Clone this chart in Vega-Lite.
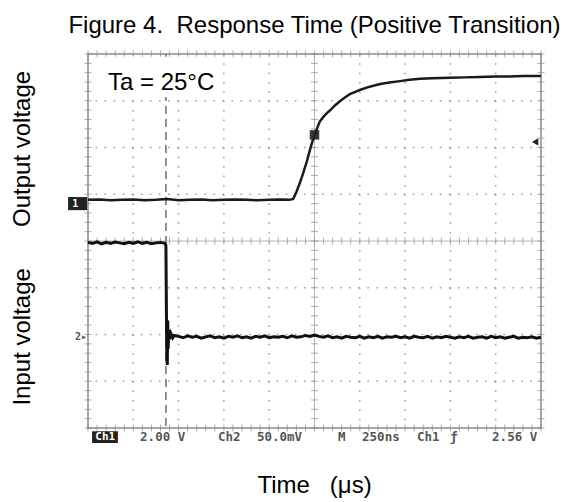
{
  "$schema": "https://vega.github.io/schema/vega-lite/v6.json",
  "width": 453,
  "height": 374,
  "autosize": {"type": "none"},
  "padding": {"left": 88, "top": 54, "right": 30, "bottom": 74},
  "background": "white",
  "config": {
    "view": {"stroke": "#8a8a8a", "strokeWidth": 1.5},
    "font": "Liberation Sans"
  },
  "title": {
    "text": "Figure 4.\u00a0 Response Time (Positive Transition)",
    "fontSize": 24,
    "fontWeight": "normal",
    "font": "Liberation Sans",
    "color": "black",
    "anchor": "middle",
    "dx": 0,
    "offset": 13
  },
  "datasets": {
    "one": [{}],
    "gx": [{"v": 1}, {"v": 2}, {"v": 3}, {"v": 4}, {"v": 6}, {"v": 7}, {"v": 8}, {"v": 9}],
    "gy": [{"v": 1}, {"v": 2}, {"v": 3}, {"v": 5}, {"v": 6}, {"v": 7}],
    "mx": [{"v":0},{"v":0.2},{"v":0.4},{"v":0.6},{"v":0.8},{"v":1},{"v":1.2},{"v":1.4},{"v":1.6},{"v":1.8},{"v":2},{"v":2.2},{"v":2.4},{"v":2.6},{"v":2.8},{"v":3},{"v":3.2},{"v":3.4},{"v":3.6},{"v":3.8},{"v":4},{"v":4.2},{"v":4.4},{"v":4.6},{"v":4.8},{"v":5},{"v":5.2},{"v":5.4},{"v":5.6},{"v":5.8},{"v":6},{"v":6.2},{"v":6.4},{"v":6.6},{"v":6.8},{"v":7},{"v":7.2},{"v":7.4},{"v":7.6},{"v":7.8},{"v":8},{"v":8.2},{"v":8.4},{"v":8.6},{"v":8.8},{"v":9},{"v":9.2},{"v":9.4},{"v":9.6},{"v":9.8},{"v":10}],
    "my": [{"v":0},{"v":0.2},{"v":0.4},{"v":0.6},{"v":0.8},{"v":1},{"v":1.2},{"v":1.4},{"v":1.6},{"v":1.8},{"v":2},{"v":2.2},{"v":2.4},{"v":2.6},{"v":2.8},{"v":3},{"v":3.2},{"v":3.4},{"v":3.6},{"v":3.8},{"v":4},{"v":4.2},{"v":4.4},{"v":4.6},{"v":4.8},{"v":5},{"v":5.2},{"v":5.4},{"v":5.6},{"v":5.8},{"v":6},{"v":6.2},{"v":6.4},{"v":6.6},{"v":6.8},{"v":7},{"v":7.2},{"v":7.4},{"v":7.6},{"v":7.8},{"v":8}],
    "out": [
      {"t":0,"v":4.88},{"t":0.25,"v":4.89},{"t":0.5,"v":4.87},{"t":0.75,"v":4.88},{"t":1,"v":4.89},{"t":1.25,"v":4.87},{"t":1.5,"v":4.88},{"t":1.75,"v":4.9},{"t":2,"v":4.87},{"t":2.25,"v":4.88},{"t":2.5,"v":4.89},{"t":2.75,"v":4.87},{"t":3,"v":4.88},{"t":3.25,"v":4.89},{"t":3.5,"v":4.88},{"t":3.75,"v":4.87},{"t":4,"v":4.88},{"t":4.25,"v":4.89},{"t":4.45,"v":4.88},{"t":4.53,"v":4.9},
      {"t":4.6,"v":5.05},{"t":4.68,"v":5.25},{"t":4.75,"v":5.45},{"t":4.83,"v":5.7},{"t":4.9,"v":5.95},{"t":4.96,"v":6.15},{"t":5.01,"v":6.27},{"t":5.06,"v":6.42},{"t":5.12,"v":6.56},{"t":5.2,"v":6.66},{"t":5.28,"v":6.74},{"t":5.34,"v":6.79},{"t":5.45,"v":6.9},{"t":5.56,"v":6.99},{"t":5.67,"v":7.07},{"t":5.78,"v":7.14},{"t":5.9,"v":7.19},{"t":6,"v":7.23},{"t":6.15,"v":7.28},{"t":6.3,"v":7.32},{"t":6.45,"v":7.36},{"t":6.65,"v":7.39},{"t":6.89,"v":7.42},{"t":7.1,"v":7.45},{"t":7.33,"v":7.47},{"t":7.6,"v":7.48},{"t":7.99,"v":7.49},{"t":8.3,"v":7.5},{"t":8.65,"v":7.51},{"t":9,"v":7.52},{"t":9.3,"v":7.52},{"t":9.6,"v":7.53},{"t":10,"v":7.53}
    ],
    "inp": [
      {"t":0,"v":3.97},{"t":0.1,"v":3.95},{"t":0.2,"v":3.98},{"t":0.3,"v":3.94},{"t":0.4,"v":3.97},{"t":0.5,"v":3.95},{"t":0.6,"v":3.98},{"t":0.7,"v":3.96},{"t":0.8,"v":3.94},{"t":0.9,"v":3.97},{"t":1,"v":3.95},{"t":1.1,"v":3.98},{"t":1.2,"v":3.95},{"t":1.3,"v":3.97},{"t":1.4,"v":3.94},{"t":1.5,"v":3.96},{"t":1.6,"v":3.97},{"t":1.7,"v":3.95},
      {"t":1.72,"v":3.9},{"t":1.73,"v":2.6},{"t":1.74,"v":1.5},{"t":1.75,"v":1.35},{"t":1.76,"v":2.3},{"t":1.77,"v":1.7},{"t":1.78,"v":2.1},{"t":1.8,"v":1.9},{"t":1.83,"v":2.02},{"t":1.87,"v":1.93},{"t":1.9,"v":1.98},
      {"t":2,"v":1.96},{"t":2.1,"v":1.93},{"t":2.2,"v":1.97},{"t":2.3,"v":1.94},{"t":2.4,"v":1.96},{"t":2.5,"v":1.92},{"t":2.6,"v":1.95},{"t":2.7,"v":1.97},{"t":2.8,"v":1.93},{"t":2.9,"v":1.95},{"t":3,"v":1.92},{"t":3.1,"v":1.96},{"t":3.2,"v":1.94},{"t":3.3,"v":1.97},{"t":3.4,"v":1.93},{"t":3.5,"v":1.95},{"t":3.6,"v":1.92},{"t":3.7,"v":1.96},{"t":3.8,"v":1.94},{"t":3.9,"v":1.97},{"t":4,"v":1.93},{"t":4.1,"v":1.95},{"t":4.2,"v":1.94},{"t":4.3,"v":1.96},{"t":4.4,"v":1.93},{"t":4.5,"v":1.97},{"t":4.6,"v":1.94},{"t":4.7,"v":1.95},{"t":4.8,"v":1.98},{"t":4.9,"v":1.96},{"t":5,"v":1.99},{"t":5.1,"v":1.96},{"t":5.2,"v":1.94},{"t":5.3,"v":1.97},{"t":5.4,"v":1.93},{"t":5.5,"v":1.95},{"t":5.6,"v":1.92},{"t":5.7,"v":1.96},{"t":5.8,"v":1.94},{"t":5.9,"v":1.93},{"t":6,"v":1.96},{"t":6.1,"v":1.92},{"t":6.2,"v":1.95},{"t":6.3,"v":1.93},{"t":6.4,"v":1.96},{"t":6.5,"v":1.92},{"t":6.6,"v":1.95},{"t":6.7,"v":1.94},{"t":6.8,"v":1.96},{"t":6.9,"v":1.93},{"t":7,"v":1.95},{"t":7.1,"v":1.92},{"t":7.2,"v":1.96},{"t":7.3,"v":1.94},{"t":7.4,"v":1.93},{"t":7.5,"v":1.96},{"t":7.6,"v":1.92},{"t":7.7,"v":1.95},{"t":7.8,"v":1.93},{"t":7.9,"v":1.96},{"t":8,"v":1.94},{"t":8.1,"v":1.92},{"t":8.2,"v":1.95},{"t":8.3,"v":1.93},{"t":8.4,"v":1.96},{"t":8.5,"v":1.92},{"t":8.6,"v":1.94},{"t":8.7,"v":1.95},{"t":8.8,"v":1.92},{"t":8.9,"v":1.96},{"t":9,"v":1.93},{"t":9.1,"v":1.95},{"t":9.2,"v":1.92},{"t":9.3,"v":1.94},{"t":9.4,"v":1.96},{"t":9.5,"v":1.92},{"t":9.6,"v":1.94},{"t":9.7,"v":1.93},{"t":9.8,"v":1.95},{"t":9.9,"v":1.92},{"t":10,"v":1.94}
    ],
    "strip": [
      {"t": 1.15, "s": "2.00 V"},
      {"t": 2.87, "s": "Ch2"},
      {"t": 3.73, "s": "50.0mV"},
      {"t": 5.52, "s": "M"},
      {"t": 6.05, "s": "250ns"},
      {"t": 7.26, "s": "Ch1"},
      {"t": 7.99, "s": "ƒ"},
      {"t": 8.92, "s": "2.56 V"}
    ]
  },
  "layer": [
    {
      "data": {"name": "gx"},
      "mark": {"type": "rule", "color": "#9a9a9a", "strokeWidth": 1.5, "strokeDash": [1.5, 7.85]},
      "encoding": {
        "x": {"field": "v", "type": "quantitative", "scale": {"domain": [0, 10], "nice": false, "zero": false}, "axis": null}
      }
    },
    {
      "data": {"name": "gy"},
      "mark": {"type": "rule", "color": "#9a9a9a", "strokeWidth": 1.5, "strokeDash": [1.5, 7.56]},
      "encoding": {
        "y": {"field": "v", "type": "quantitative", "scale": {"domain": [0, 8], "nice": false, "zero": false}, "axis": null}
      }
    },
    {
      "data": {"name": "one"},
      "mark": {"type": "rule", "color": "#b5b5b5", "strokeWidth": 1},
      "encoding": {"x": {"datum": 5, "axis": null}}
    },
    {
      "data": {"name": "one"},
      "mark": {"type": "rule", "color": "#b5b5b5", "strokeWidth": 1},
      "encoding": {"y": {"datum": 4, "axis": null}}
    },
    {
      "data": {"name": "mx"},
      "mark": {"type": "tick", "orient": "vertical", "color": "#8a8a8a", "size": 7, "thickness": 1},
      "encoding": {"x": {"field": "v", "type": "quantitative", "axis": null}, "y": {"datum": 4, "axis": null}}
    },
    {
      "data": {"name": "mx"},
      "mark": {"type": "tick", "orient": "vertical", "color": "#8a8a8a", "size": 7, "thickness": 1},
      "encoding": {"x": {"field": "v", "type": "quantitative", "axis": null}, "y": {"datum": 0, "axis": null}}
    },
    {
      "data": {"name": "mx"},
      "mark": {"type": "tick", "orient": "vertical", "color": "#8a8a8a", "size": 7, "thickness": 1},
      "encoding": {"x": {"field": "v", "type": "quantitative", "axis": null}, "y": {"datum": 8, "axis": null}}
    },
    {
      "data": {"name": "my"},
      "mark": {"type": "tick", "orient": "horizontal", "color": "#8a8a8a", "size": 7, "thickness": 1},
      "encoding": {"y": {"field": "v", "type": "quantitative", "axis": null}, "x": {"datum": 5, "axis": null}}
    },
    {
      "data": {"name": "my"},
      "mark": {"type": "tick", "orient": "horizontal", "color": "#8a8a8a", "size": 7, "thickness": 1},
      "encoding": {"y": {"field": "v", "type": "quantitative", "axis": null}, "x": {"datum": 0, "axis": null}}
    },
    {
      "data": {"name": "my"},
      "mark": {"type": "tick", "orient": "horizontal", "color": "#8a8a8a", "size": 7, "thickness": 1},
      "encoding": {"y": {"field": "v", "type": "quantitative", "axis": null}, "x": {"datum": 10, "axis": null}}
    },
    {
      "data": {"name": "one"},
      "mark": {"type": "rule", "color": "#777777", "strokeWidth": 1.6, "strokeDash": [8, 5]},
      "encoding": {"x": {"datum": 1.72, "axis": null}}
    },
    {
      "data": {"name": "one"},
      "mark": {"type": "rect", "color": "white"},
      "encoding": {
        "x": {"datum": 0.31, "axis": null}, "x2": {"datum": 2.98},
        "y": {"datum": 7.08, "axis": null}, "y2": {"datum": 7.94}
      }
    },
    {
      "data": {"name": "one"},
      "mark": {"type": "text", "text": "Ta = 25°C", "fontSize": 24, "font": "Liberation Sans", "align": "left", "baseline": "middle", "color": "black"},
      "encoding": {"x": {"datum": 0.44, "axis": null}, "y": {"datum": 7.38, "axis": null}}
    },
    {
      "data": {"name": "out"},
      "mark": {"type": "line", "color": "#1a1a1a", "strokeWidth": 2.5},
      "encoding": {
        "x": {"field": "t", "type": "quantitative", "axis": null},
        "y": {"field": "v", "type": "quantitative", "axis": null}
      }
    },
    {
      "data": {"name": "inp"},
      "mark": {"type": "line", "color": "#111111", "strokeWidth": 3},
      "encoding": {
        "x": {"field": "t", "type": "quantitative", "axis": null},
        "y": {"field": "v", "type": "quantitative", "axis": null}
      }
    },
    {
      "data": {"name": "one"},
      "mark": {"type": "point", "shape": "square", "filled": true, "size": 90, "color": "#222222", "opacity": 0.9},
      "encoding": {"x": {"datum": 5.0, "axis": null}, "y": {"datum": 6.27, "axis": null}}
    },
    {
      "data": {"name": "one"},
      "mark": {"type": "point", "shape": "triangle-left", "filled": true, "size": 55, "color": "#222222", "opacity": 1},
      "encoding": {"x": {"datum": 9.87, "axis": null}, "y": {"datum": 6.12, "axis": null}}
    },
    {
      "data": {"name": "one"},
      "mark": {"type": "rect", "color": "#222222"},
      "encoding": {
        "x": {"datum": -0.44, "axis": null}, "x2": {"datum": -0.02},
        "y": {"datum": 4.66, "axis": null}, "y2": {"datum": 4.94}
      }
    },
    {
      "data": {"name": "one"},
      "mark": {"type": "text", "text": "1", "fontSize": 10, "font": "DejaVu Sans Mono", "fontWeight": "bold", "color": "white", "align": "center", "baseline": "middle"},
      "encoding": {"x": {"datum": -0.28, "axis": null}, "y": {"datum": 4.8, "axis": null}}
    },
    {
      "data": {"name": "one"},
      "mark": {"type": "text", "text": "2▸", "fontSize": 10, "font": "DejaVu Sans Mono", "fontWeight": "bold", "color": "#555555", "align": "right", "baseline": "middle"},
      "encoding": {"x": {"datum": -0.02, "axis": null}, "y": {"datum": 1.95, "axis": null}}
    },
    {
      "data": {"name": "one"},
      "mark": {"type": "rect", "color": "#222222"},
      "encoding": {
        "x": {"datum": 0.09, "axis": null}, "x2": {"datum": 0.66},
        "y": {"datum": -0.07, "axis": null}, "y2": {"datum": -0.32}
      }
    },
    {
      "data": {"name": "one"},
      "mark": {"type": "text", "text": "Ch1", "fontSize": 11, "font": "DejaVu Sans Mono", "fontWeight": "bold", "color": "white", "align": "center", "baseline": "middle"},
      "encoding": {"x": {"datum": 0.38, "axis": null}, "y": {"datum": -0.19, "axis": null}}
    },
    {
      "data": {"name": "strip"},
      "mark": {"type": "text", "fontSize": 12.5, "font": "DejaVu Sans Mono", "fontWeight": "bold", "color": "#555555", "align": "left", "baseline": "middle"},
      "encoding": {
        "x": {"field": "t", "type": "quantitative", "axis": null},
        "y": {"datum": -0.19, "axis": null},
        "text": {"field": "s"}
      }
    },
    {
      "data": {"name": "one"},
      "mark": {"type": "text", "text": "Time\u00a0\u00a0 (μs)", "fontSize": 24, "font": "Liberation Sans", "align": "center", "baseline": "middle", "color": "black"},
      "encoding": {"x": {"datum": 5.0, "axis": null}, "y": {"datum": -1.24, "axis": null}}
    },
    {
      "data": {"name": "one"},
      "mark": {"type": "text", "text": "Output voltage", "fontSize": 24, "font": "Liberation Sans", "angle": 270, "align": "center", "baseline": "middle", "color": "black"},
      "encoding": {"x": {"datum": -1.43, "axis": null}, "y": {"datum": 5.97, "axis": null}}
    },
    {
      "data": {"name": "one"},
      "mark": {"type": "text", "text": "Input voltage", "fontSize": 24, "font": "Liberation Sans", "angle": 270, "align": "center", "baseline": "middle", "color": "black"},
      "encoding": {"x": {"datum": -1.43, "axis": null}, "y": {"datum": 1.95, "axis": null}}
    }
  ]
}
